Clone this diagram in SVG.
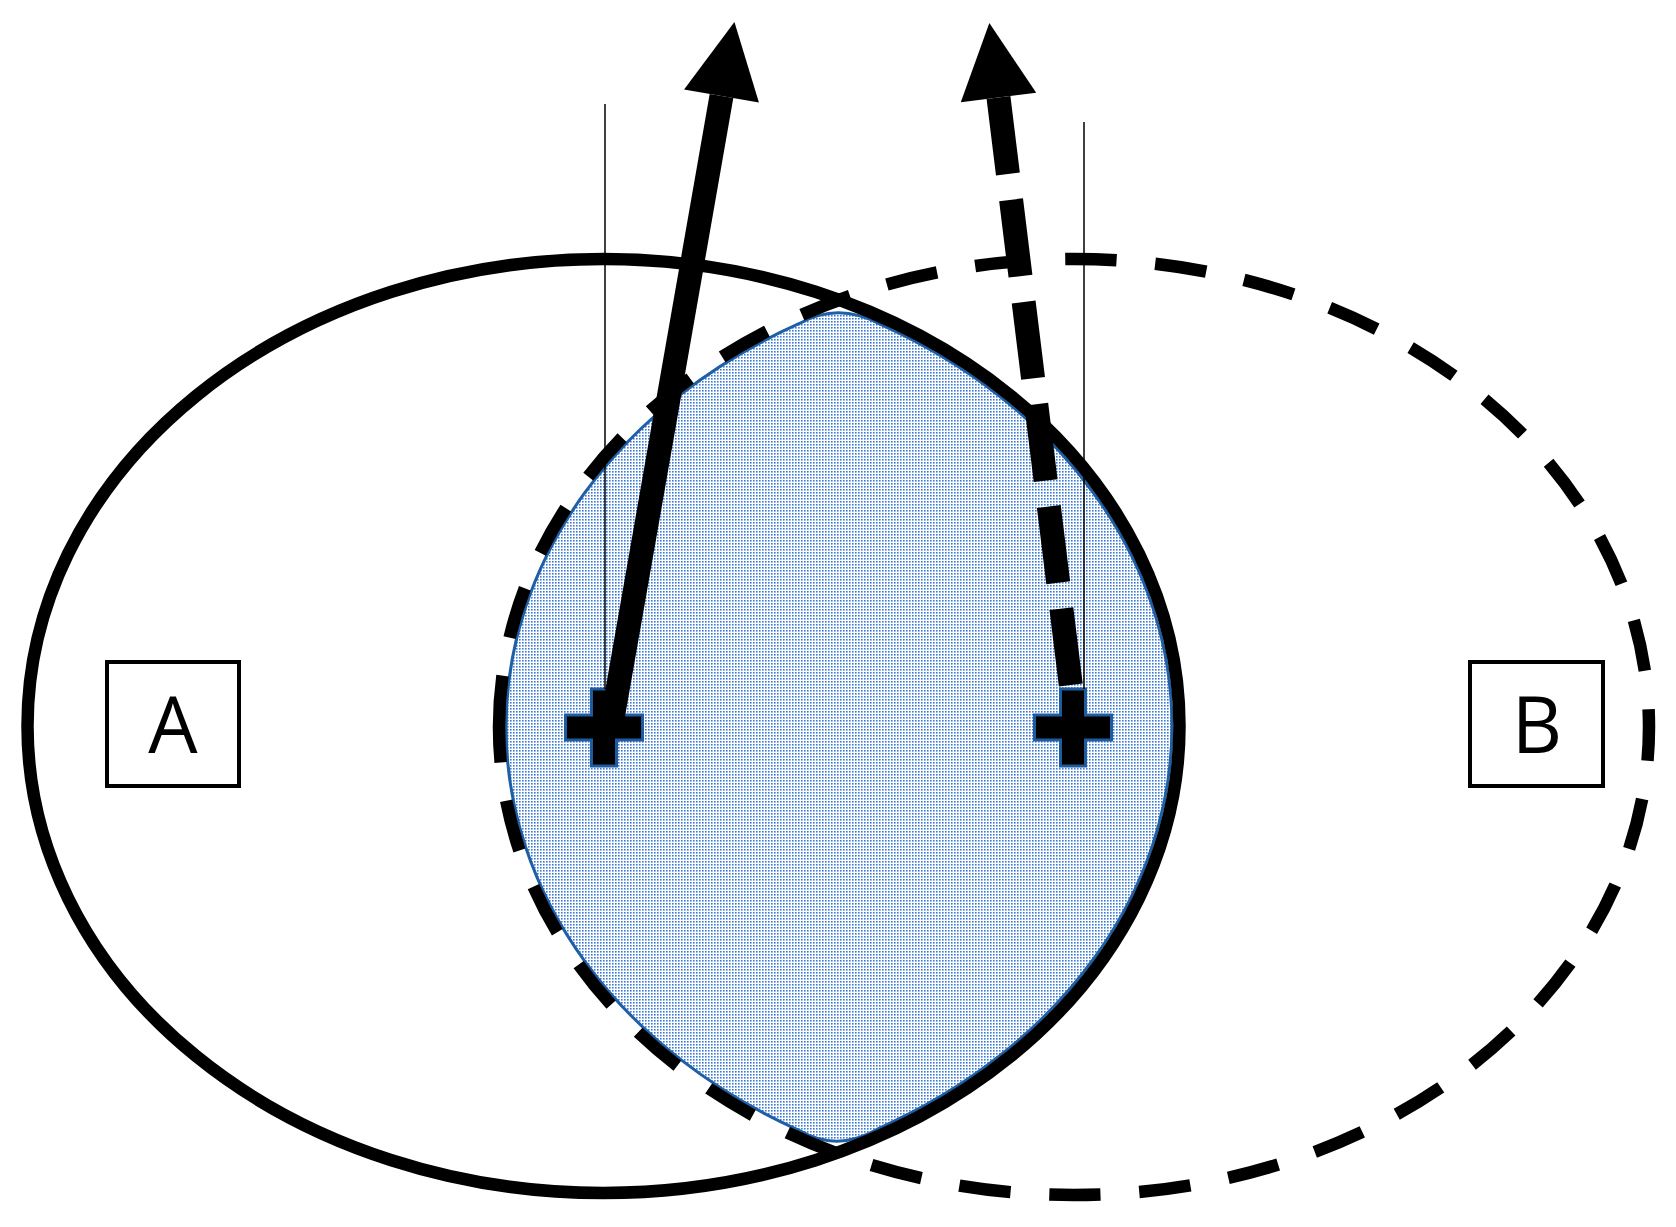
<svg xmlns="http://www.w3.org/2000/svg" width="1676" height="1227" viewBox="0 0 1676 1227">
  <defs>
    <pattern id="dots" patternUnits="userSpaceOnUse" width="3" height="3">
      <rect width="3" height="3" fill="#ffffff"/>
      <rect width="1.6" height="1.6" fill="#3A7AD5"/>
    </pattern>
    <marker id="head" markerUnits="userSpaceOnUse" markerWidth="76" markerHeight="76" refX="0" refY="38" orient="auto-start-reverse" overflow="visible">
      <path d="M0,0 L75,38 L0,76 Z" fill="#000"/>
    </marker>
  </defs>
  <style>
    .solid { fill: none; stroke: #000; stroke-width: 12.5; }
    .dashed { fill: none; stroke: #000; stroke-width: 12.5; stroke-dasharray: 51.6 38.66; }
    .lens { fill: url(#dots); stroke: #1F5FA6; stroke-width: 3; }
    .plus { fill: #000; stroke: #1F5C9E; stroke-width: 3; }
    .thin { stroke: #000; stroke-width: 1.5; fill: none; }
    .shaft { stroke: #000; stroke-width: 24; fill: none; }
    .box { fill: #fff; stroke: #000; stroke-width: 4; }
    .label { font-family: "Open Sans", "Noto Sans", sans-serif; font-size: 78px; fill: #000; text-anchor: middle; }
  </style>
  <rect width="1676" height="1227" fill="#ffffff"/>

  <g id="intersection">
    <path class="lens" d="M 880 324.2 A 569 460 0 0 1 880 1127.8 Q 838.5 1153 800 1130.8 A 568 461 0 0 1 800 323.2 Q 838.5 302 880 324.2 Z"/>
  </g>

  <g id="set-A">
    <ellipse class="solid" cx="603.5" cy="726" rx="576" ry="467"/>
  </g>
  <g id="set-B">
    <path class="dashed" d="M 499 727 A 575 468 0 1 1 1649 727 A 575 468 0 1 1 499 727"/>
  </g>

  <g id="center-A">
    <path class="plus" d="M 591.5 689 H 616.5 V 715 H 642.5 V 740 H 616.5 V 766 H 591.5 V 740 H 565.5 V 715 H 591.5 Z"/>
  </g>
  <g id="center-B">
    <path class="plus" d="M 1060.5 689 H 1085.5 V 715 H 1111.5 V 740 H 1085.5 V 766 H 1060.5 V 740 H 1034.5 V 715 H 1060.5 Z"/>
  </g>

  <g id="connectors">
    <line class="thin" x1="605" y1="104" x2="605" y2="689"/>
    <line class="thin" x1="1084" y1="122" x2="1084" y2="689"/>
    <line class="shaft" x1="611" y1="727" x2="721.5" y2="96" marker-end="url(#head)"/>
    <path class="shaft" d="M 998.5 97.5 L 1071.4 690" stroke-width="23" stroke-dasharray="77 26" marker-start="url(#head)"/>
  </g>

  <g id="label-A">
    <rect class="box" x="107" y="662" width="132" height="124"/>
    <text class="label" x="173" y="753">A</text>
  </g>
  <g id="label-B">
    <rect class="box" x="1470" y="662" width="133" height="124"/>
    <text class="label" x="1537" y="753">B</text>
  </g>
</svg>
